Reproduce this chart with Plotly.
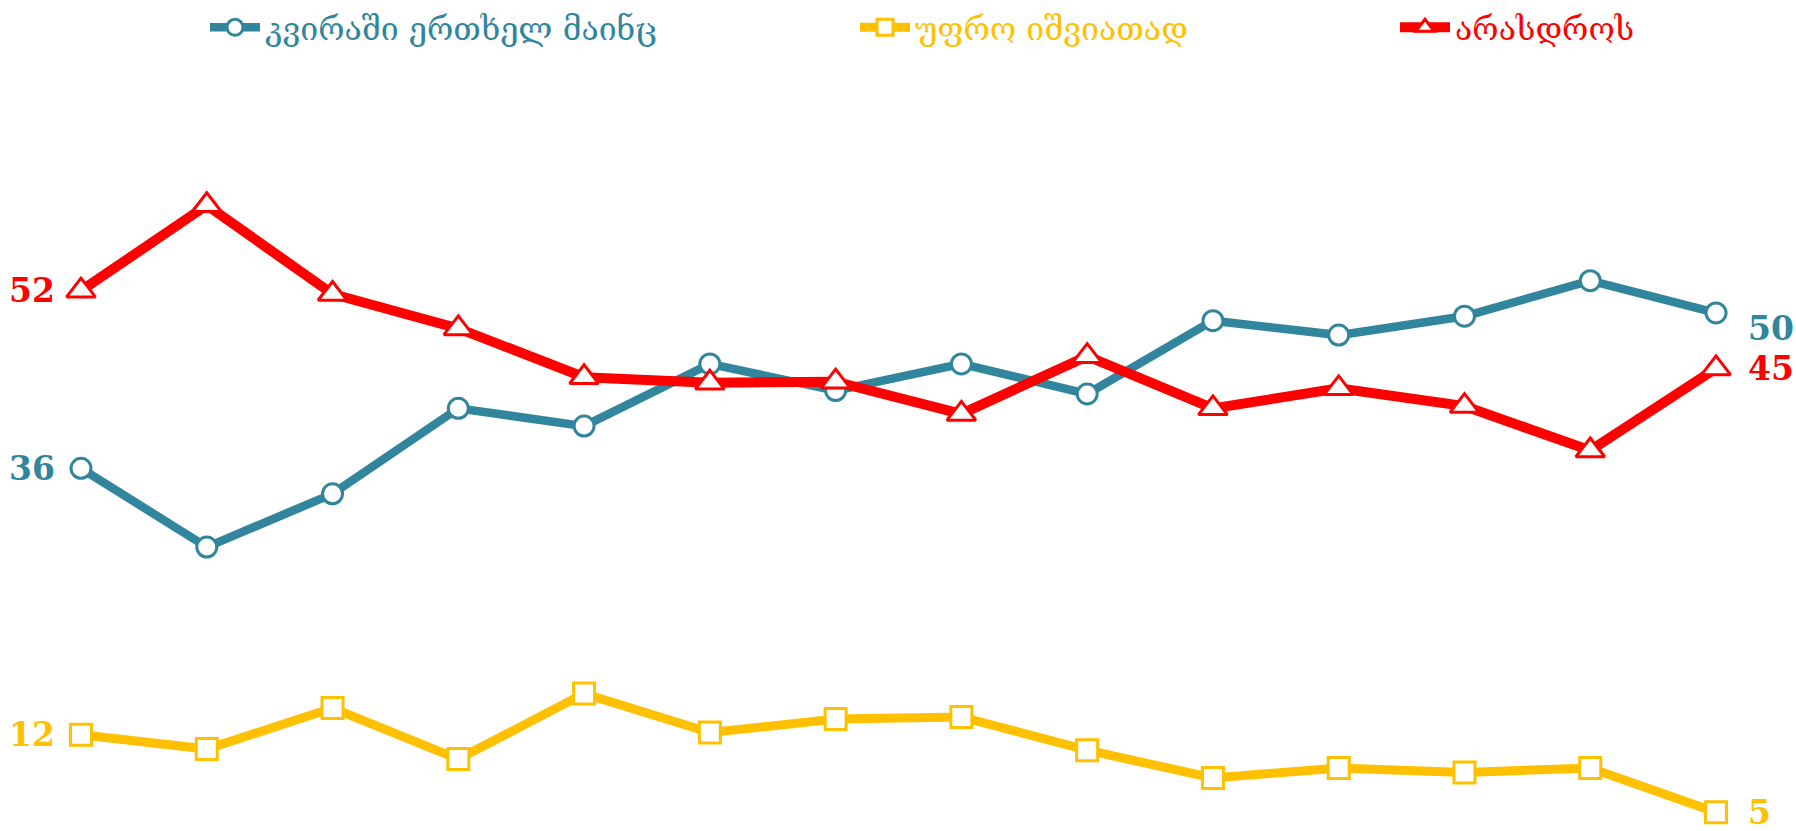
import plotly.graph_objects as go

# Survey waves (14 rounds)
waves = list(range(1, 15))

weekly = [36, 28.9, 33.7, 41.4, 39.8, 45.4, 43.0, 45.4, 42.7, 49.3, 48.0, 49.7, 52.9, 50]
rarely = [12, 10.7, 14.4, 9.8, 15.7, 12.2, 13.4, 13.6, 10.6, 8.1, 9.0, 8.6, 9.0, 5]
never = [52, 59.7, 51.7, 48.6, 44.2, 43.7, 43.8, 40.9, 46.1, 41.4, 43.2, 41.6, 37.6, 45]

names = ["კვირაში ერთხელ მაინც", "უფრო იშვიათად", "არასდროს"]
colors = ["#31859C", "#FFC000", "#FF0000"]

LABEL_FONT = "DejaVu Serif, Liberation Serif, serif"
TEXT_FONT = "DejaVu Serif, DejaVu Sans, sans-serif"

fig = go.Figure()

fig.add_trace(go.Scatter(
    x=waves, y=weekly, name=names[0], mode="lines+markers",
    line=dict(color=colors[0], width=8.5),
    marker=dict(symbol="circle", size=20, color="white",
                line=dict(color=colors[0], width=3)),
    cliponaxis=False, legend="legend",
))
fig.add_trace(go.Scatter(
    x=waves, y=rarely, name=names[1], mode="lines+markers",
    line=dict(color=colors[1], width=9),
    marker=dict(symbol="square", size=21, color="white",
                line=dict(color=colors[1], width=3)),
    cliponaxis=False, legend="legend2",
))
fig.add_trace(go.Scatter(
    x=waves, y=never, name=names[2], mode="lines+markers",
    line=dict(color=colors[2], width=10),
    marker=dict(symbol="triangle-up", size=25, color="white",
                line=dict(color=colors[2], width=3)),
    cliponaxis=False, legend="legend3",
))

# First / last value labels
series = [weekly, rarely, never]
end_shift = [-16, 0, 0]
for vals, col, dy in zip(series, colors, end_shift):
    fig.add_annotation(x=waves[0], y=vals[0], text=f"{vals[0]:.0f}",
                       xanchor="right", yanchor="middle", xshift=-24,
                       showarrow=False,
                       font=dict(family=LABEL_FONT, size=33, color=col, weight="bold"))
    fig.add_annotation(x=waves[-1], y=vals[-1], text=f"{vals[-1]:.0f}",
                       xanchor="left", yanchor="middle", xshift=30, yshift=dy,
                       showarrow=False,
                       font=dict(family=LABEL_FONT, size=33, color=col, weight="bold"))

W, H = 1796, 831
leg_y = 1 - 27 / H


def legend_at(px, col):
    return dict(x=px / W, xanchor="left", y=leg_y, yanchor="middle",
                orientation="h", bgcolor="rgba(0,0,0,0)", borderwidth=0,
                itemwidth=50,
                font=dict(family=TEXT_FONT, size=32, color=col))


fig.update_layout(
    width=W, height=H,
    margin=dict(l=0, r=0, t=0, b=0),
    paper_bgcolor="white", plot_bgcolor="white",
    showlegend=True,
    legend=legend_at(205, colors[0]),
    legend2=legend_at(855, colors[1]),
    legend3=legend_at(1395, colors[2]),
    xaxis=dict(range=[0.356, 14.636], visible=False, fixedrange=True),
    yaxis=dict(range=[3.32, 78.10], visible=False, fixedrange=True),
)

fig.write_html("out.html")
